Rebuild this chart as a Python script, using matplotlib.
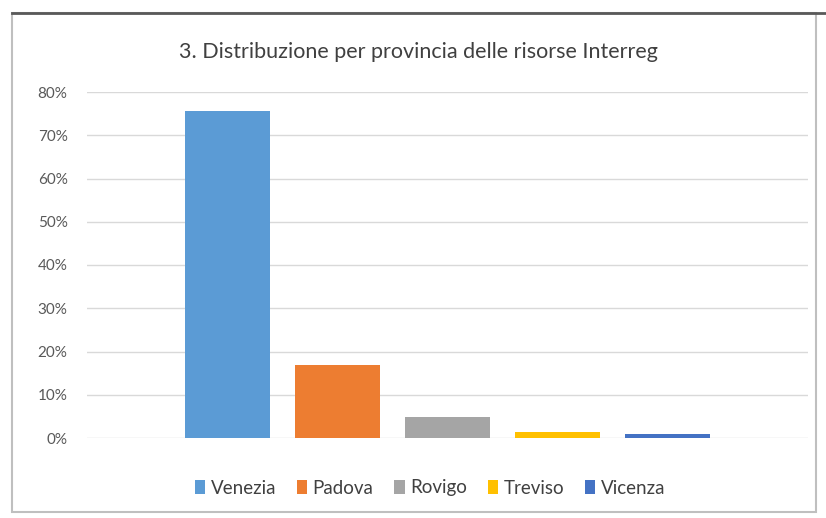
import matplotlib.pyplot as plt
from matplotlib.patches import Rectangle
from matplotlib.ticker import PercentFormatter

# Data
province = ['Venezia', 'Padova', 'Rovigo', 'Treviso', 'Vicenza']
quota = [0.757, 0.169, 0.049, 0.015, 0.009]
colori = ['#5B9BD5', '#ED7D31', '#A5A5A5', '#FFC000', '#4472C4']
yticks = [0, 0.1, 0.2, 0.3, 0.4, 0.5, 0.6, 0.7, 0.8]

plt.rcParams['font.family'] = ['Lato', 'DejaVu Sans']

W, H = 826, 518
fig = plt.figure(figsize=(W / 100, H / 100), dpi=100)

# chart border
fig.patches.append(Rectangle((12 / W, 1 - 512 / H), 804 / W, 499 / H,
                             transform=fig.transFigure, fill=False,
                             edgecolor='#BFBFBF', linewidth=1.5))
fig.add_artist(plt.Line2D([12 / W, 1], [1 - 13 / H, 1 - 13 / H],
                          transform=fig.transFigure, color='#595959', linewidth=2))

ax = fig.add_axes([87 / W, 1 - 438 / H, 721 / W, 346 / H])
x = list(range(len(province)))
bars = ax.bar(x, quota, width=0.78, color=colori, zorder=3)

ax.set_ylim(0, 0.8)
ax.set_xlim(-1.277, 5.277)
ax.set_yticks(yticks)
ax.yaxis.set_major_formatter(PercentFormatter(1.0, decimals=0))
ax.set_xticks([])
ax.grid(axis='y', color='#D9D9D9', linewidth=1, zorder=0)
for s in ax.spines.values():
    s.set_visible(False)
ax.tick_params(axis='y', length=0, pad=14, labelsize=11, labelcolor='#595959')

fig.text(418 / W, 1 - 52 / H, '3. Distribuzione per provincia delle risorse Interreg',
         ha='center', va='center', fontsize=15.5, color='#404040')

fig.legend(bars, province, loc='center', bbox_to_anchor=(430 / W, 1 - 488 / H),
           ncol=5, frameon=False, fontsize=13.5, handlelength=0.55, handleheight=0.7,
           handletextpad=0.3, columnspacing=1.1, labelcolor='#404040')

fig.savefig('out.png', dpi=100)
